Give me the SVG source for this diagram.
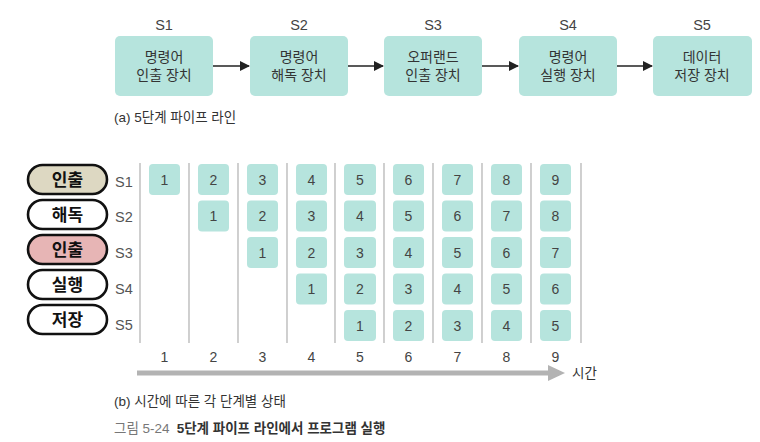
<svg xmlns="http://www.w3.org/2000/svg" width="760" height="442" viewBox="0 0 760 442">
<style>
.t{font-family:"Liberation Sans","Noto Sans CJK KR",sans-serif}
.box{fill:#b6e4dd}
.lbl{font-size:14px;fill:#333;text-anchor:middle}
.sl{font-size:14.5px;fill:#444;text-anchor:middle}
.cell{fill:#b6e4dd}
.cn{font-size:14px;fill:#444;text-anchor:middle}
.pill{stroke:#111;stroke-width:2.6}
.pt{font-size:17px;font-weight:bold;fill:#111;text-anchor:middle}
.sx{font-size:14.5px;fill:#555}
.vl{stroke:#c4c4c4;stroke-width:1.6}
.cap{font-size:13.5px;fill:#333}
.conn{stroke:#222;stroke-width:1.3}
</style>
<defs>
<marker id="ah" markerWidth="10" markerHeight="10" refX="9" refY="5" orient="auto" markerUnits="userSpaceOnUse">
<path d="M0,0 L10,5 L0,10 z" fill="#222"/>
</marker>
</defs>
<rect width="760" height="442" fill="#fff"/>
<!-- (a) top pipeline -->
<g id="s1"><text class="t sl" x="164" y="30">S1</text><rect class="box" x="115" y="36" width="98" height="60" rx="5"/><text class="t lbl" x="164" y="62">명령어</text><text class="t lbl" x="164" y="80">인출 장치</text></g>
<g id="s2"><text class="t sl" x="299" y="30">S2</text><rect class="box" x="250" y="36" width="98" height="60" rx="5"/><text class="t lbl" x="299" y="62">명령어</text><text class="t lbl" x="299" y="80">해독 장치</text></g>
<g id="s3"><text class="t sl" x="433" y="30">S3</text><rect class="box" x="384" y="36" width="98" height="60" rx="5"/><text class="t lbl" x="433" y="62">오퍼랜드</text><text class="t lbl" x="433" y="80">인출 장치</text></g>
<g id="s4"><text class="t sl" x="568" y="30">S4</text><rect class="box" x="519" y="36" width="98" height="60" rx="5"/><text class="t lbl" x="568" y="62">명령어</text><text class="t lbl" x="568" y="80">실행 장치</text></g>
<g id="s5"><text class="t sl" x="702" y="30">S5</text><rect class="box" x="653" y="36" width="99" height="60" rx="5"/><text class="t lbl" x="702" y="62">데이터</text><text class="t lbl" x="702" y="80">저장 장치</text></g>
<g id="connectors">
<line class="conn" x1="213" y1="66" x2="249" y2="66" marker-end="url(#ah)"/>
<line class="conn" x1="348" y1="66" x2="383" y2="66" marker-end="url(#ah)"/>
<line class="conn" x1="482" y1="66" x2="518" y2="66" marker-end="url(#ah)"/>
<line class="conn" x1="617" y1="66" x2="652" y2="66" marker-end="url(#ah)"/>
</g>
<text class="t cap" x="114" y="122">(a) 5단계 파이프 라인</text>
<!-- (b) pills -->
<g id="p1"><rect class="pill" x="28" y="165" width="79" height="29" rx="14.5" fill="#ddd8c2"/><text class="t pt" x="67.5" y="185.5">인출</text></g>
<g id="p2"><rect class="pill" x="28" y="200" width="79" height="29" rx="14.5" fill="#fff"/><text class="t pt" x="67.5" y="220.5">해독</text></g>
<g id="p3"><rect class="pill" x="28" y="235" width="79" height="29" rx="14.5" fill="#e7b5b5"/><text class="t pt" x="67.5" y="255.5">인출</text></g>
<g id="p4"><rect class="pill" x="28" y="270" width="79" height="29" rx="14.5" fill="#fff"/><text class="t pt" x="67.5" y="290.5">실행</text></g>
<g id="p5"><rect class="pill" x="28" y="305" width="79" height="29" rx="14.5" fill="#fff"/><text class="t pt" x="67.5" y="325.5">저장</text></g>
<g class="t sx">
<text x="115" y="187">S1</text><text x="115" y="222">S2</text><text x="115" y="258">S3</text><text x="115" y="294">S4</text><text x="115" y="330">S5</text>
</g>
<!-- grid lines -->
<g>
<line class="vl" x1="140" y1="163" x2="140" y2="343"/>
<line class="vl" x1="189" y1="163" x2="189" y2="343"/>
<line class="vl" x1="238" y1="163" x2="238" y2="343"/>
<line class="vl" x1="287" y1="163" x2="287" y2="343"/>
<line class="vl" x1="335" y1="163" x2="335" y2="343"/>
<line class="vl" x1="384" y1="163" x2="384" y2="343"/>
<line class="vl" x1="433" y1="163" x2="433" y2="343"/>
<line class="vl" x1="482" y1="163" x2="482" y2="343"/>
<line class="vl" x1="531" y1="163" x2="531" y2="343"/>
<line class="vl" x1="581" y1="163" x2="581" y2="343"/>
</g>
<!-- cells -->
<g id="cells">
<rect class="cell" x="149" y="164" width="31" height="31" rx="4"/><text class="t cn" x="164.5" y="184.5">1</text>
<rect class="cell" x="198" y="164" width="31" height="31" rx="4"/><text class="t cn" x="213.5" y="184.5">2</text>
<rect class="cell" x="198" y="200.5" width="31" height="31" rx="4"/><text class="t cn" x="213.5" y="221">1</text>
<rect class="cell" x="247" y="164" width="31" height="31" rx="4"/><text class="t cn" x="262.5" y="184.5">3</text>
<rect class="cell" x="247" y="200.5" width="31" height="31" rx="4"/><text class="t cn" x="262.5" y="221">2</text>
<rect class="cell" x="247" y="237" width="31" height="31" rx="4"/><text class="t cn" x="262.5" y="257.5">1</text>
<rect class="cell" x="296" y="164" width="31" height="31" rx="4"/><text class="t cn" x="311.5" y="184.5">4</text>
<rect class="cell" x="296" y="200.5" width="31" height="31" rx="4"/><text class="t cn" x="311.5" y="221">3</text>
<rect class="cell" x="296" y="237" width="31" height="31" rx="4"/><text class="t cn" x="311.5" y="257.5">2</text>
<rect class="cell" x="296" y="273.5" width="31" height="31" rx="4"/><text class="t cn" x="311.5" y="294">1</text>
<rect class="cell" x="344" y="164" width="32" height="31" rx="4"/><text class="t cn" x="360" y="184.5">5</text>
<rect class="cell" x="344" y="200.5" width="32" height="31" rx="4"/><text class="t cn" x="360" y="221">4</text>
<rect class="cell" x="344" y="237" width="32" height="31" rx="4"/><text class="t cn" x="360" y="257.5">3</text>
<rect class="cell" x="344" y="273.5" width="32" height="31" rx="4"/><text class="t cn" x="360" y="294">2</text>
<rect class="cell" x="344" y="310" width="32" height="31" rx="4"/><text class="t cn" x="360" y="330.5">1</text>
<rect class="cell" x="393" y="164" width="31" height="31" rx="4"/><text class="t cn" x="408.5" y="184.5">6</text>
<rect class="cell" x="393" y="200.5" width="31" height="31" rx="4"/><text class="t cn" x="408.5" y="221">5</text>
<rect class="cell" x="393" y="237" width="31" height="31" rx="4"/><text class="t cn" x="408.5" y="257.5">4</text>
<rect class="cell" x="393" y="273.5" width="31" height="31" rx="4"/><text class="t cn" x="408.5" y="294">3</text>
<rect class="cell" x="393" y="310" width="31" height="31" rx="4"/><text class="t cn" x="408.5" y="330.5">2</text>
<rect class="cell" x="442" y="164" width="31" height="31" rx="4"/><text class="t cn" x="457.5" y="184.5">7</text>
<rect class="cell" x="442" y="200.5" width="31" height="31" rx="4"/><text class="t cn" x="457.5" y="221">6</text>
<rect class="cell" x="442" y="237" width="31" height="31" rx="4"/><text class="t cn" x="457.5" y="257.5">5</text>
<rect class="cell" x="442" y="273.5" width="31" height="31" rx="4"/><text class="t cn" x="457.5" y="294">4</text>
<rect class="cell" x="442" y="310" width="31" height="31" rx="4"/><text class="t cn" x="457.5" y="330.5">3</text>
<rect class="cell" x="491" y="164" width="31" height="31" rx="4"/><text class="t cn" x="506.5" y="184.5">8</text>
<rect class="cell" x="491" y="200.5" width="31" height="31" rx="4"/><text class="t cn" x="506.5" y="221">7</text>
<rect class="cell" x="491" y="237" width="31" height="31" rx="4"/><text class="t cn" x="506.5" y="257.5">6</text>
<rect class="cell" x="491" y="273.5" width="31" height="31" rx="4"/><text class="t cn" x="506.5" y="294">5</text>
<rect class="cell" x="491" y="310" width="31" height="31" rx="4"/><text class="t cn" x="506.5" y="330.5">4</text>
<rect class="cell" x="540" y="164" width="31" height="31" rx="4"/><text class="t cn" x="555.5" y="184.5">9</text>
<rect class="cell" x="540" y="200.5" width="31" height="31" rx="4"/><text class="t cn" x="555.5" y="221">8</text>
<rect class="cell" x="540" y="237" width="31" height="31" rx="4"/><text class="t cn" x="555.5" y="257.5">7</text>
<rect class="cell" x="540" y="273.5" width="31" height="31" rx="4"/><text class="t cn" x="555.5" y="294">6</text>
<rect class="cell" x="540" y="310" width="31" height="31" rx="4"/><text class="t cn" x="555.5" y="330.5">5</text>
</g>
<!-- time axis numbers -->
<g class="t cn">
<text x="164.5" y="362">1</text><text x="213.5" y="362">2</text><text x="262.5" y="362">3</text><text x="311.5" y="362">4</text><text x="360" y="362">5</text><text x="408.5" y="362">6</text><text x="457.5" y="362">7</text><text x="506.5" y="362">8</text><text x="555.5" y="362">9</text>
</g>
<path d="M137,370.5 L548,370.5 L548,365 L565,373 L548,381 L548,375.5 L137,375.5 z" fill="#b3b3b3"/>
<text class="t" x="572" y="378" font-size="13.5" fill="#333">시간</text>
<text class="t cap" x="114" y="406">(b) 시간에 따른 각 단계별 상태</text>
<text class="t" x="114" y="433" font-size="13.5"><tspan fill="#777">그림 5-24</tspan><tspan fill="#333" font-weight="bold" dx="7">5단계 파이프 라인에서 프로그램 실행</tspan></text>
</svg>
